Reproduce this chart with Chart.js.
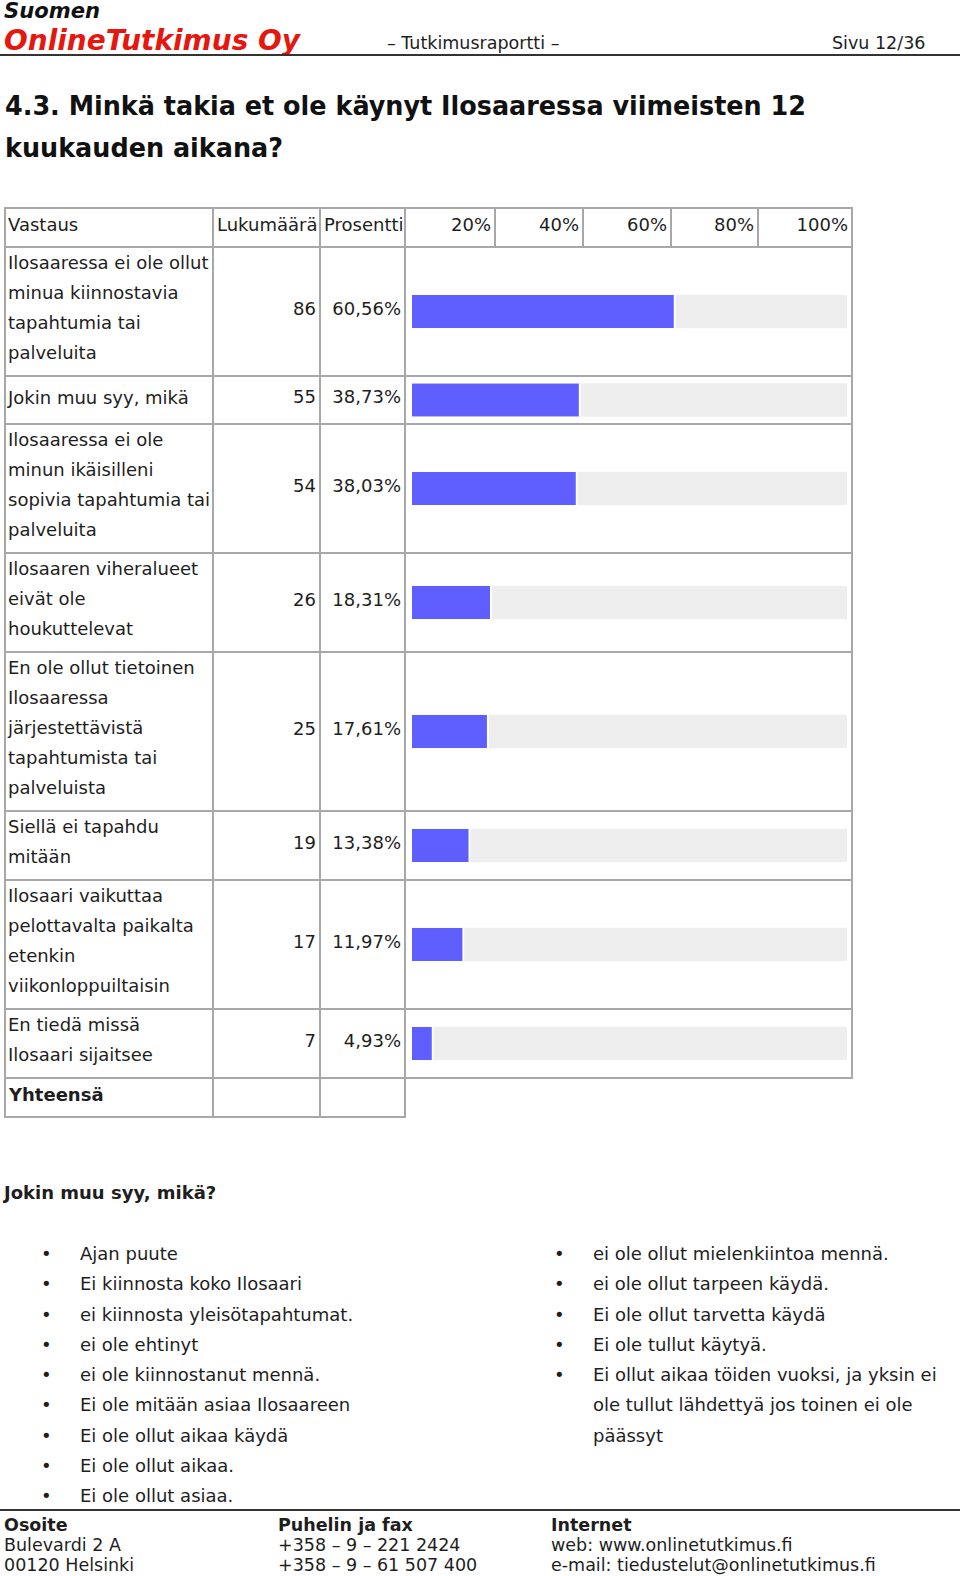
<!DOCTYPE html>
<html lang="fi">
<head>
<meta charset="utf-8">
<title>Minkä takia et ole käynyt Ilosaaressa</title>
<script src="https://cdn.jsdelivr.net/npm/chart.js@4.4.1/dist/chart.umd.min.js"></script>
<style>
  html, body { margin: 0; padding: 0; background: #fff; }
  body { width: 960px; height: 1576px; position: relative; overflow: hidden;
         font-family: "DejaVu Sans", Verdana, sans-serif; color: #1e1e1e; }
  .abs { position: absolute; white-space: nowrap; }
  .fit { display: inline-block; transform-origin: 0 50%; }
  #brand1 { left: 4px; top: 0; font: italic bold 22px/22px "DejaVu Sans"; color: #111; }
  #brand2 { left: 4px; top: 26px; font: italic bold 27.5px/28px "DejaVu Sans"; color: #e5170f; }
  #subtitle { left: 387px; top: 33px; font-size: 17.5px; line-height: 20px; }
  #page { left: 832px; top: 33px; font-size: 17.5px; line-height: 20px; }
  .rule { position: absolute; left: 0; width: 960px; height: 2px; background: #333; }
  #title { left: 5px; top: 85px; font: bold 27px/42px "DejaVu Sans Condensed", "DejaVu Sans"; color: #111; }
  #tbl { position: absolute; left: 4px; top: 207px; border-collapse: collapse; table-layout: fixed;
         width: 849px; font-size: 18px; line-height: 30px; }
  #tbl td { border: 2px solid #a8a8a8; padding: 0; white-space: nowrap; }
  #tbl td.lab { padding-left: 2px; vertical-align: top; }
  #tbl td.lab.one { vertical-align: middle; padding-bottom: 5px; }
  #tbl td.num { text-align: right; padding-right: 3px; padding-bottom: 6px; vertical-align: middle; }
  #tbl td.pct { text-align: right; padding-right: 3px; padding-bottom: 6px; vertical-align: middle; }
  #tbl td.head { vertical-align: middle; padding-bottom: 5px; }
  #tbl td.tick { text-align: right; padding-right: 3px; padding-bottom: 5px; vertical-align: middle; }
  #tbl td.bar { position: relative; }
  #tbl td.bar > div { position: absolute; left: 0; top: 0; right: 0; bottom: 0; }
  #tbl td.blank { border-right: none; border-bottom: none; }
  #q2 { left: 4px; top: 1178px; font-weight: bold; font-size: 18px; line-height: 30px; }
  .list { position: absolute; top: 1239px; font-size: 18px; line-height: 30.25px; }
  .list div { position: relative; white-space: nowrap; }
  .list span.b { position: absolute; left: -39px; }
  #foot div { position: absolute; top: 1515px; font-size: 17.5px; line-height: 20px; white-space: nowrap; }
  #foot b { font-weight: bold; }
</style>
</head>
<body>

<div class="abs" id="brand1"><span class="fit">Suomen</span></div>
<div class="abs" id="brand2"><span class="fit">OnlineTutkimus Oy</span></div>
<div class="abs" id="subtitle">– Tutkimusraportti –</div>
<div class="abs" id="page">Sivu 12/36</div>
<div class="rule" style="top:54px"></div>

<div class="abs" id="title"><span class="fit" id="t1">4.3. Minkä takia et ole käynyt Ilosaaressa viimeisten 12</span><br><span class="fit" id="t2">kuukauden aikana?</span></div>

<table id="tbl">
  <colgroup>
    <col style="width:208px"><col style="width:107px"><col style="width:85px">
    <col style="width:90px"><col style="width:88px"><col style="width:88px"><col style="width:87px"><col style="width:94px">
  </colgroup>
  <tbody id="tbody"></tbody>
</table>

<div class="abs" id="q2">Jokin muu syy, mikä?</div>
<div class="list" id="listL" style="left:80px"></div>
<div class="list" id="listR" style="left:593px"></div>

<div class="rule" style="top:1509px"></div>
<div id="foot">
  <div style="left:4px"><b>Osoite</b><br>Bulevardi 2 A<br>00120 Helsinki</div>
  <div style="left:278px"><b>Puhelin ja fax</b><br>+358 – 9 – 221 2424<br>+358 – 9 – 61 507 400</div>
  <div style="left:551px"><b>Internet</b><br>web: www.onlinetutkimus.fi<br>e-mail: tiedustelut@onlinetutkimus.fi</div>
</div>

<script>
// data
const answers = [
  "Ilosaaressa ei ole ollut\nminua kiinnostavia\ntapahtumia tai\npalveluita",
  "Jokin muu syy, mikä",
  "Ilosaaressa ei ole\nminun ikäisilleni\nsopivia tapahtumia tai\npalveluita",
  "Ilosaaren viheralueet\neivät ole\nhoukuttelevat",
  "En ole ollut tietoinen\nIlosaaressa\njärjestettävistä\ntapahtumista tai\npalveluista",
  "Siellä ei tapahdu\nmitään",
  "Ilosaari vaikuttaa\npelottavalta paikalta\netenkin\nviikonloppuiltaisin",
  "En tiedä missä\nIlosaari sijaitsee"
];
const counts = [86, 55, 54, 26, 25, 19, 17, 7];
const percents = [60.56, 38.73, 38.03, 18.31, 17.61, 13.38, 11.97, 4.93];
const trackMax = [100, 100, 100, 100, 100, 100, 100, 100];
const tickLabels = ["20%", "40%", "60%", "80%", "100%"];
const headers = ["Vastaus", "Lukumäärä", "Prosentti"];
const totalLabel = "Yhteensä";

const otherLeft = [
  "Ajan puute",
  "Ei kiinnosta koko Ilosaari",
  "ei kiinnosta yleisötapahtumat.",
  "ei ole ehtinyt",
  "ei ole kiinnostanut mennä.",
  "Ei ole mitään asiaa Ilosaareen",
  "Ei ole ollut aikaa käydä",
  "Ei ole ollut aikaa.",
  "Ei ole ollut asiaa."
];
const otherRight = [
  "ei ole ollut mielenkiintoa mennä.",
  "ei ole ollut tarpeen käydä.",
  "Ei ole ollut tarvetta käydä",
  "Ei ole tullut käytyä.",
  "Ei ollut aikaa töiden vuoksi, ja yksin ei\nole tullut lähdettyä jos toinen ei ole\npäässyt"
];

const BLUE = "#5f5fff";
const TRACK = "#eeeeee";

function esc(s) {
  return s.replace(/&/g, "&amp;").replace(/</g, "&lt;").replace(/\n/g, "<br>");
}
function fmtPct(v) {
  return v.toFixed(2).replace(".", ",") + "%";
}

// table
const tbody = document.getElementById("tbody");
let html = '<tr style="height:39px">';
html += '<td class="head" style="padding-left:2px">' + headers[0] + '</td>';
html += '<td class="head" style="padding-left:3px">' + headers[1] + '</td>';
html += '<td class="head" style="padding-left:3px">' + headers[2] + '</td>';
tickLabels.forEach(t => { html += '<td class="tick">' + t + '</td>'; });
html += '</tr>';
answers.forEach((a, i) => {
  const lines = a.split("\n").length;
  const h = lines === 1 ? 48 : lines * 30 + 9;
  html += '<tr style="height:' + h + 'px">';
  html += '<td class="lab' + (lines === 1 ? ' one' : '') + '">' + esc(a) + '</td>';
  html += '<td class="num">' + counts[i] + '</td>';
  html += '<td class="pct">' + fmtPct(percents[i]) + '</td>';
  html += '<td class="bar" colspan="5"><div><canvas id="bar' + i + '"></canvas></div></td>';
  html += '</tr>';
});
html += '<tr style="height:39px"><td class="head" style="padding-left:3px;font-weight:bold">' + totalLabel +
        '</td><td></td><td></td><td class="blank" colspan="5"></td></tr>';
tbody.innerHTML = html;

// one small bar chart per answer row
answers.forEach((a, i) => {
  const ctx = document.getElementById("bar" + i).getContext("2d");
  new Chart(ctx, {
    type: "bar",
    data: {
      labels: [""],
      datasets: [{
        data: [percents[i]],
        backgroundColor: BLUE,
        borderColor: "#ffffff",
        borderWidth: { top: 0, right: 2, bottom: 0, left: 0 },
        borderSkipped: false,
        barThickness: 33,
        grouped: false
      }, {
        data: [trackMax[i]],
        backgroundColor: TRACK,
        borderWidth: 0,
        barThickness: 33,
        grouped: false
      }]
    },
    options: {
      indexAxis: "y",
      responsive: true,
      maintainAspectRatio: false,
      animation: false,
      events: [],
      layout: { padding: { left: 6, right: 4, top: 0, bottom: 0 } },
      plugins: { legend: { display: false }, tooltip: { enabled: false } },
      scales: {
        x: { display: false, min: 0, max: 100 },
        y: { display: false }
      }
    }
  });
});

// open answers
function fillList(id, items) {
  const el = document.getElementById(id);
  el.innerHTML = items.map(s => '<div><span class="b">•</span>' + esc(s) + '</div>').join("");
}
fillList("listL", otherLeft);
fillList("listR", otherRight);

// squeeze the wide fallback fonts to the original text widths
function fit(el, target) {
  const w = el.getBoundingClientRect().width;
  const k = target / w;
  el.style.transform = "scaleX(" + k + ")";
  return k;
}
const k = fit(document.getElementById("t1"), 801);
document.getElementById("t2").style.transform = "scaleX(" + k + ")";
fit(document.querySelector("#brand1 .fit"), 96);
fit(document.querySelector("#brand2 .fit"), 296);
</script>
</body>
</html>
